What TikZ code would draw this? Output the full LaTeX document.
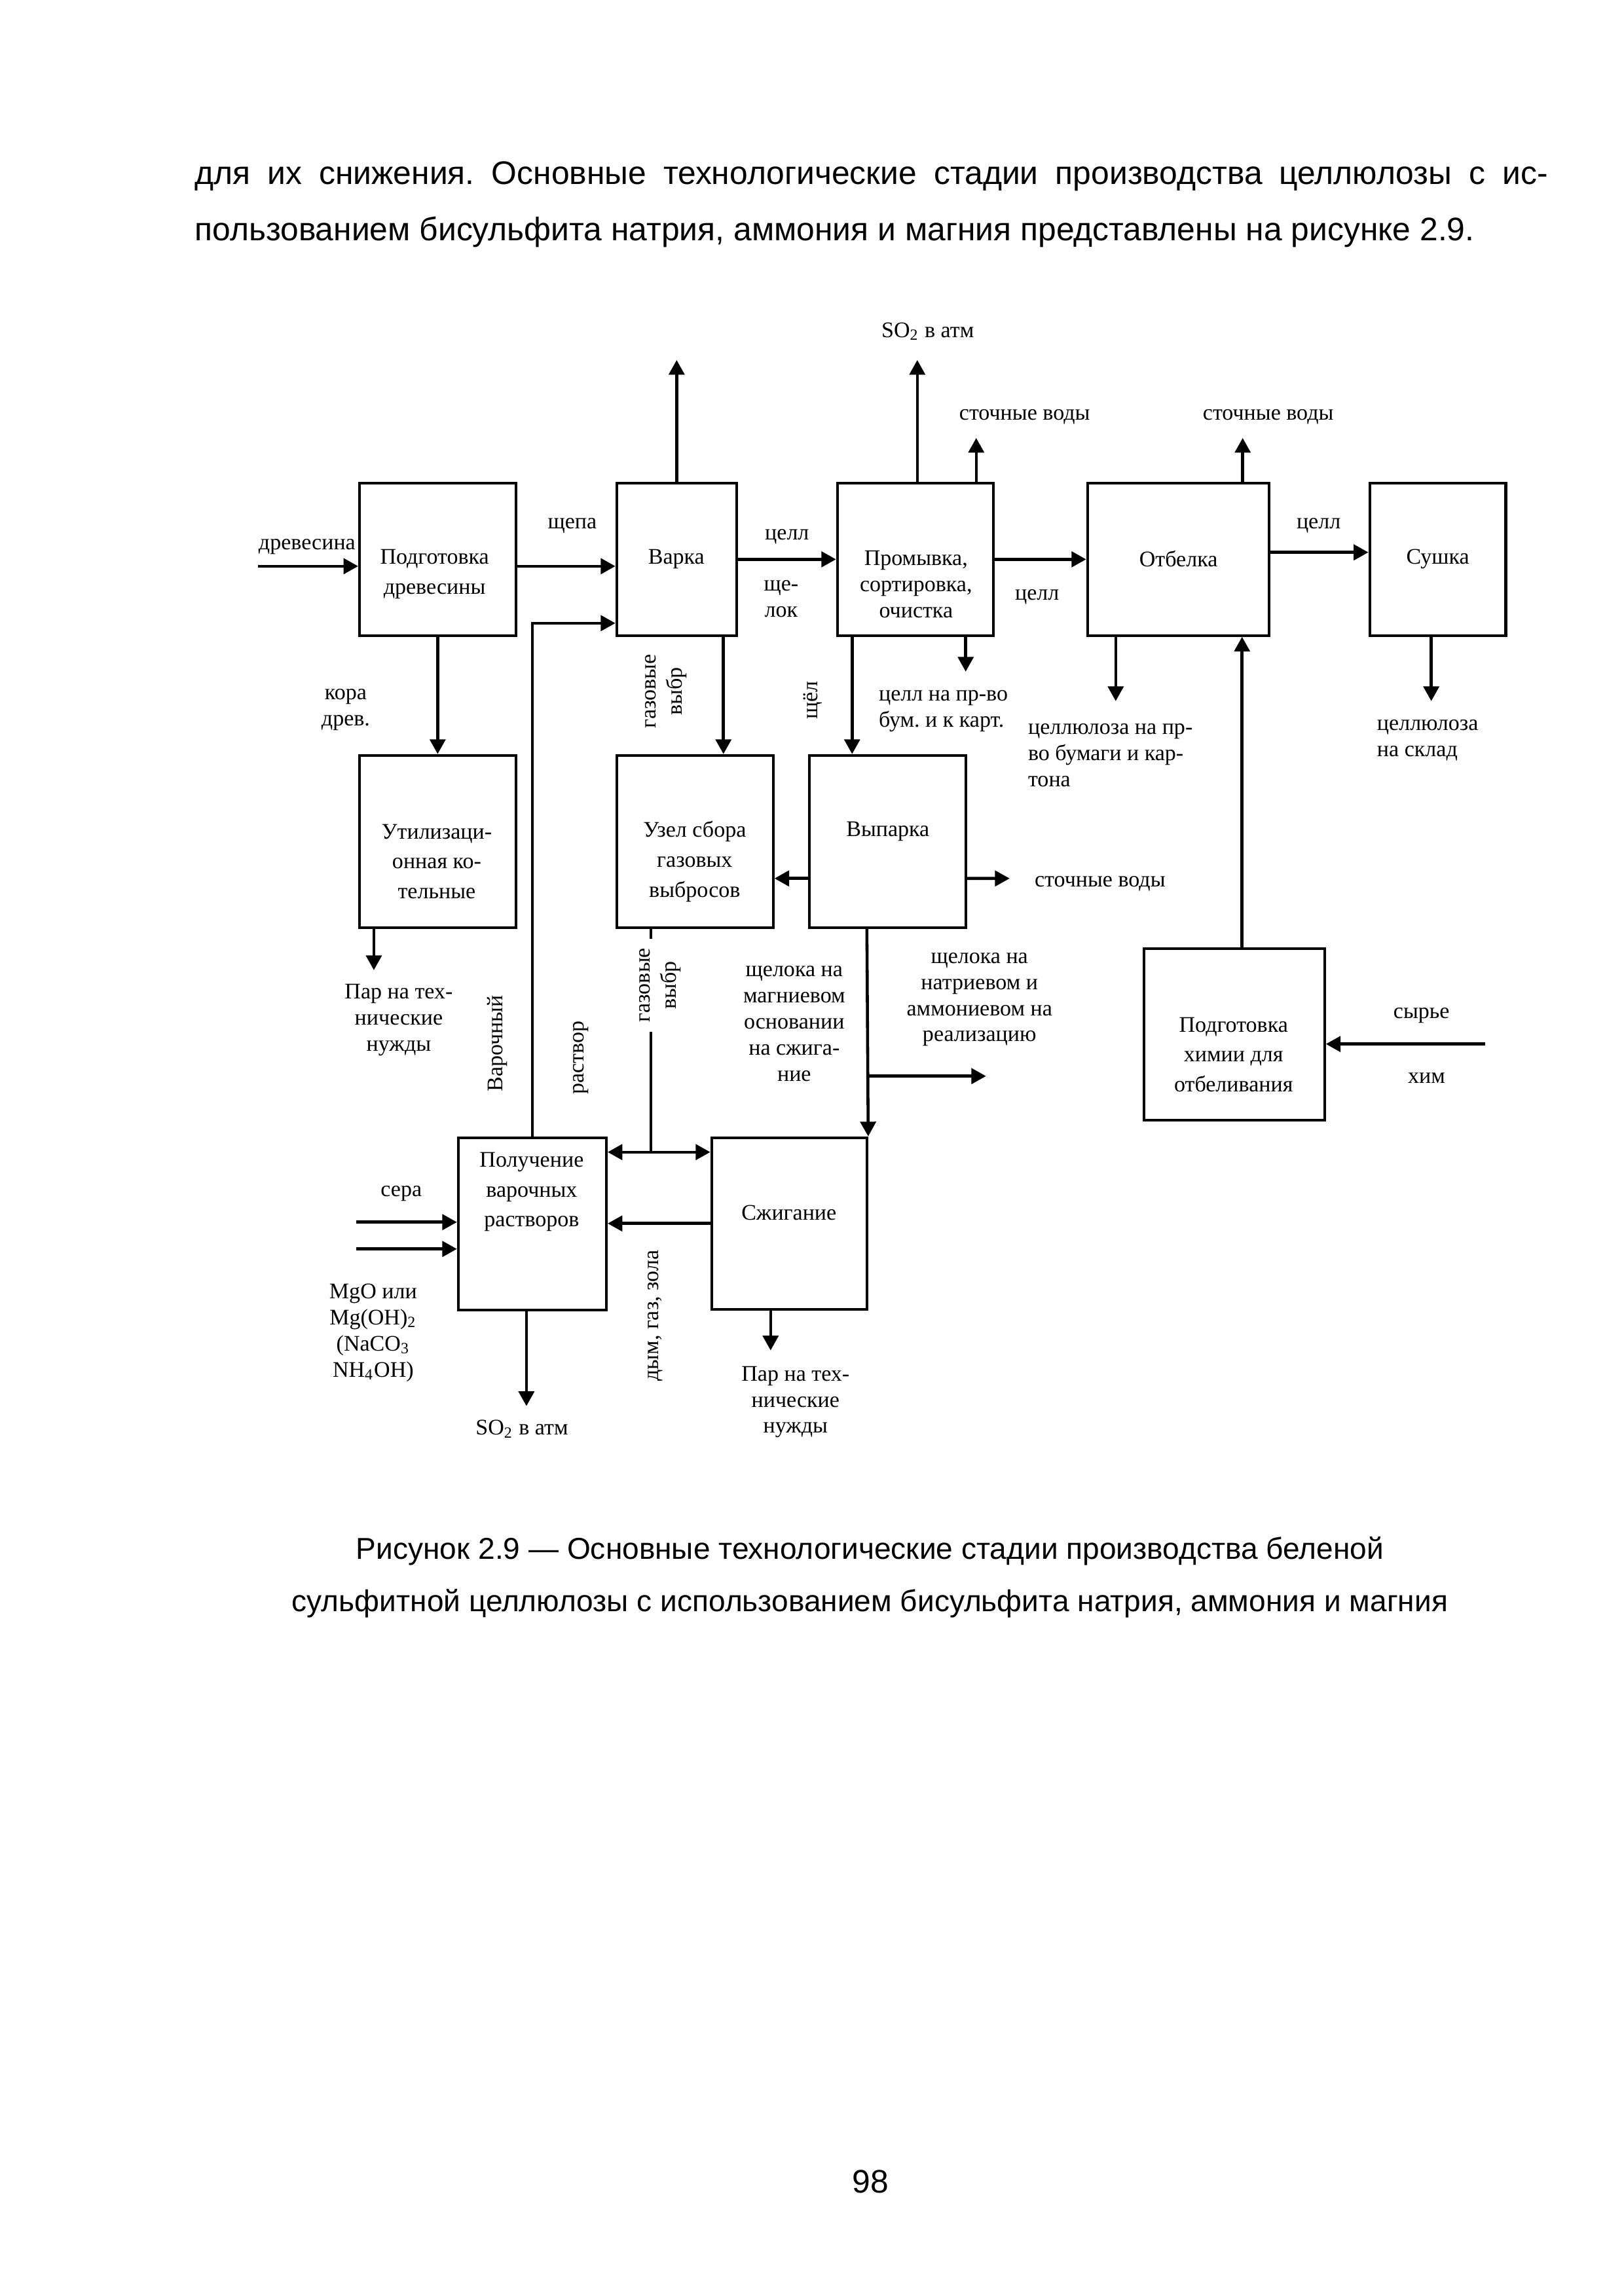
\documentclass[tikz,border=0pt]{standalone}
\usepackage{fontspec}
\setmainfont{Liberation Serif}
\newfontfamily\pagefont{Liberation Sans}
\frenchspacing
\usetikzlibrary{arrows.meta}

\begin{document}
\begin{tikzpicture}[
  >={Triangle[length=0.19cm,width=0.2cm]},
  line width=1.1pt,
  box/.style={draw,line width=1pt,inner sep=0pt},
  txt/.style={align=center,inner sep=0pt,font=\fontsize{8.2}{11}\selectfont},
  lbl/.style={align=center,inner sep=0pt,font=\fontsize{8.2}{9.6}\selectfont},
  page/.style={inner sep=0pt,anchor=base,font=\pagefont\fontsize{12}{14}\selectfont},
  capt/.style={page,font=\pagefont\fontsize{11.1}{13}\selectfont}
]
\useasboundingbox (0,0) rectangle (21,-29.7);

% page text
\node[page,anchor=base west] (P1) at (2.5,-2.388) {\makebox[17.5cm][s]{для их снижения. Основные технологические стадии производства целлюлозы с ис-}};
\node[page,anchor=base west] (P2) at (2.5,-3.116) {пользованием бисульфита натрия, аммония и магния представлены на рисунке 2.9.};
\node[capt] (P3) at (11.25,-20.169) {Рисунок 2.9 — Основные технологические стадии производства беленой};
\node[capt] (P4) at (11.25,-20.847) {сульфитной целлюлозы с использованием бисульфита натрия, аммония и магния};
\node[page] (P5) at (11.26,-28.366) {98};

% boxes
\node[box,minimum width=2.02cm,minimum height=1.97cm] (N1) at (5.66,-7.235) {};
\node[box,minimum width=1.55cm,minimum height=1.97cm] (N2) at (8.751,-7.235) {};
\node[box,minimum width=2.015cm,minimum height=1.97cm] (N3) at (11.837,-7.235) {};
\node[box,minimum width=2.345cm,minimum height=1.97cm] (N4) at (15.237,-7.235) {};
\node[box,minimum width=1.76cm,minimum height=1.97cm] (N5) at (18.594,-7.235) {};
\node[box,minimum width=2.02cm,minimum height=2.227cm] (N6) at (5.66,-10.885) {};
\node[box,minimum width=2.02cm,minimum height=2.227cm] (N7) at (8.988,-10.885) {};
\node[box,minimum width=2.02cm,minimum height=2.227cm] (N8) at (11.478,-10.885) {};
\node[box,minimum width=2.337cm,minimum height=2.218cm] (N9) at (15.961,-13.378) {};
\node[box,minimum width=1.914cm,minimum height=2.227cm] (N10) at (6.884,-15.83) {};
\node[box,minimum width=2.007cm,minimum height=2.218cm] (N11) at (10.207,-15.826) {};

\node[txt] (T1) at (5.62,-7.426) {Подготовка\\древесины};
\node[txt] (T2) at (8.747,-7.231) {Варка};
\node[txt,font=\fontsize{8.2}{9.6}\selectfont] (T3) at (11.846,-7.561) {Промывка,\\сортировка,\\очистка};
\node[txt] (T4) at (15.241,-7.231) {Отбелка};
\node[txt] (T5) at (18.594,-7.231) {Сушка};
\node[txt] (T6) at (5.648,-11.143) {Утилизаци-\\онная ко-\\тельные};
\node[txt] (T7) at (8.984,-11.143) {Узел сбора\\газовых\\выбросов};
\node[txt] (T8) at (11.482,-10.754) {Выпарка};
\node[txt] (T9) at (15.953,-13.641) {Подготовка\\химии для\\отбеливания};
\node[txt] (T10) at (6.876,-15.419) {Получение\\варочных\\растворов};
\node[txt] (T11) at (10.203,-15.69) {Сжигание};

% labels
\node[lbl] (L1) at (3.971,-7.07) {древесина};
\node[lbl] (L2) at (7.401,-6.799) {щепа};
\node[lbl] (L3) at (10.178,-6.943) {целл};
\node[lbl] (L4) at (10.102,-7.748) {ще-\\лок};
\node[lbl] (L5) at (13.412,-7.722) {целл};
\node[lbl] (L6) at (17.053,-6.799) {целл};
\node[lbl] (L7) at (11.998,-4.285) {SO\textsubscript{2} в атм};
\node[lbl] (L8) at (13.251,-5.394) {сточные воды};
\node[lbl] (L9) at (16.401,-5.394) {сточные воды};
\node[lbl] (L10) at (4.471,-9.179) {кора\\древ.};
\node[lbl,rotate=90] (L11) at (8.611,-8.942) {газовые\\выбр};
\node[lbl,rotate=90] (L12) at (10.508,-9.06) {щёл};
\node[lbl,anchor=west,align=left] (L13) at (11.346,-9.196) {целл на пр-во\\бум. и к карт.};
\node[lbl,anchor=west,align=left] (L14) at (13.277,-9.771) {целлюлоза на пр-\\во бумаги и кар-\\тона};
\node[lbl,anchor=west,align=left] (L15) at (17.79,-9.577) {целлюлоза\\на склад};
\node[lbl] (L16) at (5.157,-13.192) {Пар на тех-\\нические\\нужды};
\node[lbl,anchor=west] (L17) at (13.362,-11.431) {сточные воды};
\node[lbl] (L19) at (10.271,-13.243) {щелока на\\магниевом\\основании\\на сжига-\\ние};
\node[lbl] (L20) at (12.667,-12.93) {щелока на\\натриевом и\\аммониевом на\\реализацию};
\node[lbl] (L21) at (18.383,-13.133) {сырье};
\node[lbl] (L22) at (18.45,-13.946) {хим};
\node[lbl,rotate=90] (L23) at (6.435,-13.497) {Варочный};
\node[lbl,rotate=90] (L24) at (7.511,-13.683) {раствор};
\node[lbl] (L25) at (5.19,-15.436) {сера};
\node[lbl] (L26) at (4.826,-17.24) {MgO или\\Mg(OH)\textsubscript{2}\\(NaCO\textsubscript{3}\\NH\textsubscript{4}OH)};
\node[lbl,rotate=90] (L27) at (8.476,-17.019) {дым, газ, зола};
\node[lbl] (L28) at (6.749,-18.484) {SO\textsubscript{2} в атм};
\node[lbl] (L29) at (10.288,-18.137) {Пар на тех-\\нические\\нужды};

% free ends and joints
\coordinate (A1) at (8.751,-4.657);
\coordinate (A2) at (11.863,-4.657);
\coordinate (A3) at (12.625,-5.665);
\coordinate (A4) at (16.071,-5.665);
\coordinate (A5) at (3.336,-7.324);
\coordinate (A6) at (12.489,-8.688);
\coordinate (A7) at (14.429,-9.069);
\coordinate (A8) at (18.51,-9.069);
\coordinate (A9) at (4.835,-12.549);
\coordinate (A10) at (13.057,-11.363);
\coordinate (A11) at (12.752,-13.92);
\coordinate (A12) at (19.204,-13.505);
\coordinate (A13) at (4.606,-15.809);
\coordinate (A14) at (4.606,-16.156);
\coordinate (A15) at (6.808,-18.188);
\coordinate (A16) at (9.966,-17.468);
\coordinate (J1) at (8.417,-14.903);
\coordinate (J2) at (11.211,-13.92);

\path[->] (A5) edge (A5 -| N1.west)
  (A5 -| N1.east) edge (A5 -| N2.west)
  (N2) edge (N3)
  (N3) edge (N4)
  ([yshift=0.09cm]N4.east) edge ([yshift=0.09cm]N5.west);
\path[->] (A1 |- N2.north) edge (A1)
  (A2 |- N3.north) edge (A2)
  (A3 |- N3.north) edge (A3)
  (A4 |- N4.north) edge (A4);
\path[->] (N1) edge (N6)
  ([xshift=0.605cm]N2.south) edge ([xshift=0.368cm]N7.north)
  ([xshift=-0.817cm]N3.south) edge ([xshift=-0.458cm]N8.north)
  (A6 |- N3.south) edge (A6)
  (A7 |- N4.south) edge (A7)
  (A8 |- N5.south) edge (A8)
  ([xshift=0.102cm]N9.north) edge ([xshift=0.102cm]N9.north |- N4.south);
\path[->] (A9 |- N6.south) edge (A9)
  ([yshift=-0.478cm]N8.west) edge ([yshift=-0.478cm]N7.east)
  ([yshift=-0.478cm]N8.east) edge (A10)
  (A12) edge (A12 -| N9.east);
\draw[->] (N10.north) |- ([yshift=-0.826cm]N2.west);
\draw ([xshift=-0.571cm]N7.south) -- (J1);
\draw[<->] (J1 -| N10.east) -- (J1 -| N11.west);
\draw[->] ([xshift=-0.267cm]N8.south) -- (N11.north east);
\draw[->] (J2) -- (A11);
\path[->] (N11.west) edge (N11.west -| N10.east)
  (A13) edge (A13 -| N10.west)
  (A14) edge (A14 -| N10.west)
  (A15 |- N10.south) edge (A15)
  (A16 |- N11.south) edge (A16);

\node[lbl,rotate=90,fill=white,inner sep=0.12cm] (L18) at (8.535,-12.743) {газовые\\выбр};
\end{tikzpicture}
\end{document}
